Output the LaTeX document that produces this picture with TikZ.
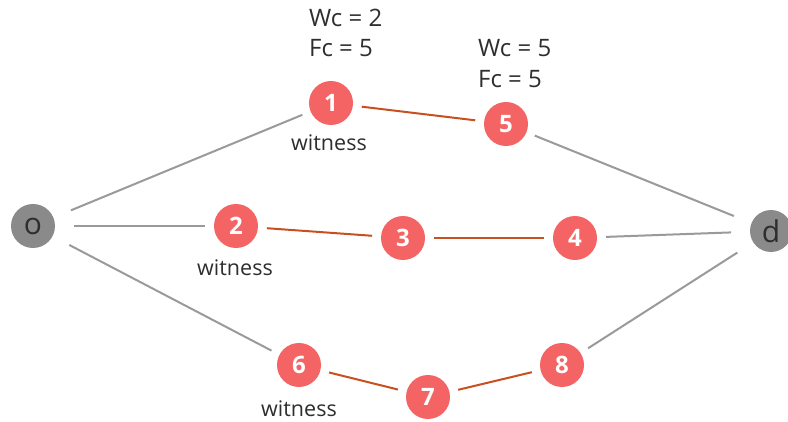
\documentclass[tikz,border=0pt]{standalone}
\usepackage{fontspec}
\setmainfont{Open Sans}
\definecolor{nodered}{HTML}{F46464}
\definecolor{edgered}{HTML}{C8501E}
\definecolor{edgegray}{HTML}{9A9A9A}
\definecolor{endgray}{HTML}{8A8A8A}
\definecolor{txt}{HTML}{2E2E2E}
\begin{document}
\begin{tikzpicture}[x=1pt,y=-1pt,
  rn/.style={circle,fill=nodered,draw=none,minimum size=44pt,inner sep=0pt,outer sep=9pt,text=white,font=\fontsize{24}{24}\selectfont\bfseries},
  en/.style={circle,fill=endgray,draw=none,minimum size=44pt,inner sep=0pt,outer sep=19pt,text=txt,font=\fontsize{30}{30}\selectfont},
  ge/.style={draw=edgegray,line width=2pt},
  re/.style={draw=edgered,line width=2pt},
  lab/.style={anchor=west,text=txt,font=\fontsize{24}{24}\selectfont,inner sep=0pt},
  wit/.style={text=txt,font=\fontsize{21.5}{21.5}\selectfont,inner sep=0pt}]
\useasboundingbox (0,0) rectangle (788,422);
\fill[white] (0,0) rectangle (788,422);
\node[en] (o) at (33,226) {o};
\node[en,minimum size=42pt] (d) at (771,231) {d};
\node[rn] (n1) at (331,103) {1};
\node[rn] (n5) at (506,124) {5};
\node[rn] (n2) at (236,226) {2};
\node[rn] (n3) at (403,238) {3};
\node[rn] (n4) at (575,238) {4};
\node[rn] (n6) at (299,365) {6};
\node[rn] (n7) at (428,397) {7};
\node[rn] (n8) at (562,365) {8};
\path[ge] (o) -- (n1);
\path[ge] (o) -- (n2);
\path[ge] (o) -- (n6);
\path[ge] (n5) -- (d);
\path[ge] (n4) -- (d);
\path[ge] (n8) -- (d);
\path[re] (n1) -- (n5);
\path[re] (n2) -- (n3);
\path[re] (n3) -- (n4);
\path[re] (n6) -- (n7);
\path[re] (n7) -- (n8);
\node[lab] (w1) at (309,18) {Wc = 2};
\node[lab] (f1) at (309,48) {Fc = 5};
\node[lab] (w5) at (478,48) {Wc = 5};
\node[lab] (f5) at (478,79) {Fc = 5};
\node[wit] (t1) at (329,143) {witness};
\node[wit] (t2) at (235,268) {witness};
\node[wit] (t6) at (299,409) {witness};
\end{tikzpicture}
\end{document}
